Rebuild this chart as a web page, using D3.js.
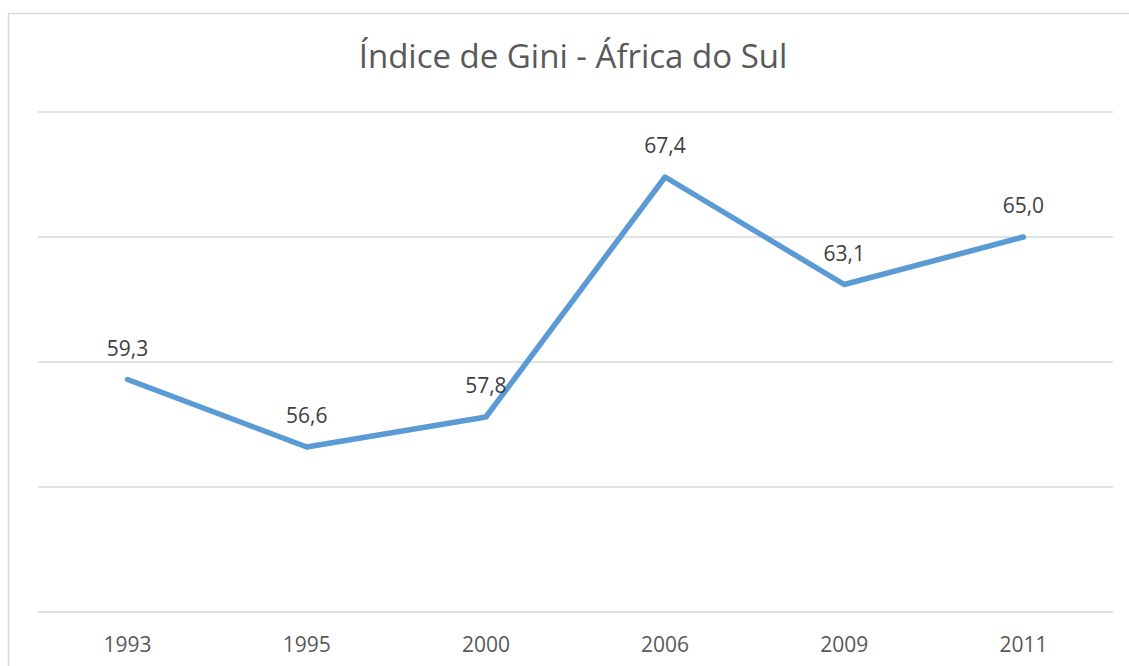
<!DOCTYPE html>
<html>
<head>
<meta charset="utf-8">
<script src="https://cdn.jsdelivr.net/npm/d3@7"></script>
<style>
  body { margin: 0; background: #fff; }
  text { font-family: "Open Sans", "Noto Sans", sans-serif; }
</style>
</head>
<body>
<div id="chart"></div>
<script>
var years = ['1993', '1995', '2000', '2006', '2009', '2011'];
var gini = [59.3, 56.6, 57.8, 67.4, 63.1, 65.0];
var grid_ticks = [50, 55, 60, 65, 70];
var title = 'Índice de Gini - África do Sul';

var colour = '#5b9bd5';

var W = 1129, H = 666;
var margin = { top: 112, right: 16, bottom: 54, left: 38 },
    width = W - margin.left - margin.right,
    height = H - margin.top - margin.bottom;

var root = d3.select('#chart').append('svg')
    .attr('width', W)
    .attr('height', H);

// chart border (runs off the picture to the right and bottom)
root.append('rect')
    .attr('x', 8.5).attr('y', 13.5)
    .attr('width', W).attr('height', H)
    .attr('fill', 'none')
    .attr('stroke', '#d9d9d9')
    .attr('stroke-width', 1.5);

root.append('text')
    .attr('x', 573).attr('y', 68)
    .attr('text-anchor', 'middle')
    .attr('font-size', 33)
    .attr('fill', '#595959')
    .text(title);

var svg = root.append('g')
    .attr('transform', 'translate(' + margin.left + ',' + margin.top + ')');

var x = d3.scaleBand()
    .domain(years)
    .range([0, width]);

var y = d3.scaleLinear()
    .domain([50, 70])
    .range([height, 0]);

svg.selectAll('.grid')
    .data(grid_ticks)
    .enter()
    .append('line')
        .attr('x1', 0).attr('x2', width)
        .attr('y1', d => y(d)).attr('y2', d => y(d))
        .attr('stroke', '#d9d9d9')
        .attr('stroke-width', 1.3);

var xAxis = svg.append('g')
    .attr('transform', `translate(0,${height})`)
    .call(d3.axisBottom(x).tickSize(0).tickPadding(25));
xAxis.select('.domain').remove();
xAxis.selectAll('text')
    .attr('font-family', '"Open Sans", sans-serif')
    .attr('font-size', 21)
    .attr('fill', '#595959');

var cx = d => x(d) + x.bandwidth() / 2;

var line = d3.line()
    .x((d, i) => cx(years[i]))
    .y(d => y(d));

svg.append('path')
    .datum(gini)
    .attr('d', line)
    .attr('fill', 'none')
    .attr('stroke', colour)
    .attr('stroke-width', 5.5)
    .attr('stroke-linejoin', 'round')
    .attr('stroke-linecap', 'round');

svg.selectAll('.lbl')
    .data(gini)
    .enter()
    .append('text')
        .attr('x', (d, i) => cx(years[i]))
        .attr('y', d => y(d) - 24)
        .attr('text-anchor', 'middle')
        .attr('font-size', 21)
        .attr('fill', '#404040')
        .text(d => d.toFixed(1).replace('.', ','));
</script>
</body>
</html>
